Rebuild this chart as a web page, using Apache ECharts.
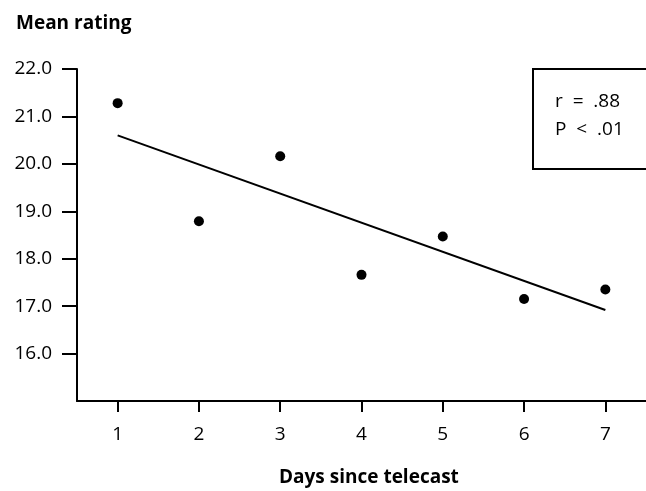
<!DOCTYPE html>
<html>
<head>
<meta charset="utf-8">
<script src="https://cdn.jsdelivr.net/npm/echarts@6/dist/echarts.min.js"></script>
<style>
html,body{margin:0;padding:0;background:#fff;}
#chart{width:646px;height:491px;}
</style>
</head>
<body>
<div id="chart"></div>
<script>
const days = ['1','2','3','4','5','6','7'];
const meanRating = [21.28, 18.79, 20.16, 17.66, 18.47, 17.15, 17.35];
const fitLine = [['1', 20.6], ['7', 16.92]];
const yTicks = [16, 17, 18, 19, 20, 21, 22];
const statLines = ['r  =  .88', 'P  <  .01'];

const FONT = '"Open Sans", "Noto Sans", sans-serif';
const chart = echarts.init(document.getElementById('chart'), null, {renderer: 'canvas'});
chart.setOption({
  animation: false,
  backgroundColor: '#fff',
  title: [
    {text: 'Mean rating', left: 11, top: 9,
     textStyle: {fontFamily: FONT, fontSize: 19, fontWeight: 'bold', color: '#000'}},
    {text: 'Days since telecast', left: 274, top: 463,
     textStyle: {fontFamily: FONT, fontSize: 19, fontWeight: 'bold', color: '#000'}}
  ],
  grid: {left: 77, top: 69, right: -5, bottom: 90, containLabel: false},
  xAxis: {
    type: 'category',
    data: days,
    boundaryGap: true,
    axisLine: {lineStyle: {color: '#000', width: 2}},
    axisTick: {show: true, alignWithLabel: true, length: 11, lineStyle: {color: '#000', width: 2}},
    axisLabel: {margin: 24, fontFamily: FONT, fontSize: 19, color: '#000'},
    splitLine: {show: false}
  },
  yAxis: {
    type: 'value',
    min: 15, max: 22, interval: 1,
    axisLine: {show: true, lineStyle: {color: '#000', width: 2}},
    axisTick: {show: true, length: 15, customValues: yTicks, lineStyle: {color: '#000', width: 2}},
    axisLabel: {
      margin: 25, fontFamily: FONT, fontSize: 19, color: '#000',
      customValues: yTicks,
      formatter: v => (yTicks.indexOf(v) >= 0 ? v.toFixed(1) : '')
    },
    splitLine: {show: false}
  },
  graphic: [
    {type: 'rect', left: 532, top: 68, z: 10,
     shape: {width: 130, height: 100},
     style: {fill: '#fff', stroke: '#000', lineWidth: 2}},
    {type: 'text', left: 555, top: 92, z: 11,
     style: {text: statLines[0], font: '19px ' + FONT, fill: '#000'}},
    {type: 'text', left: 555, top: 120, z: 11,
     style: {text: statLines[1], font: '19px ' + FONT, fill: '#000'}}
  ],
  series: [
    {type: 'scatter', data: meanRating, symbolSize: 10,
     itemStyle: {color: '#000', opacity: 1}},
    {type: 'line', data: fitLine, showSymbol: false, symbol: 'none',
     lineStyle: {color: '#000', width: 2}}
  ]
});
</script>
</body>
</html>
